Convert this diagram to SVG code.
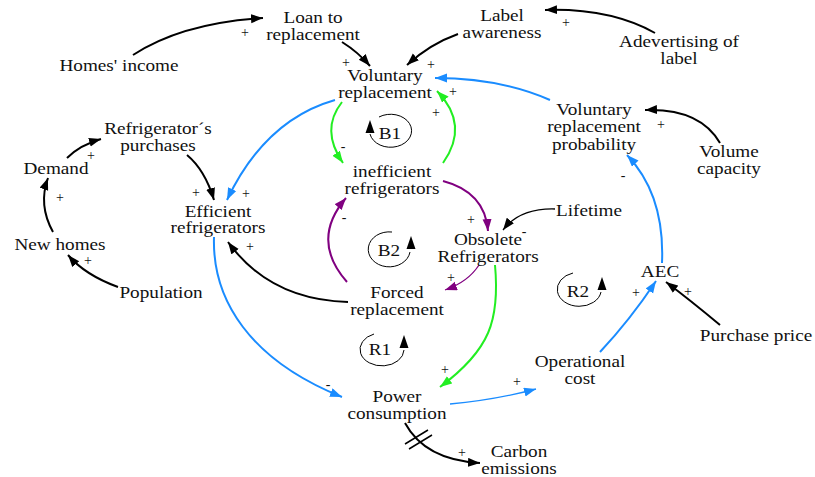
<svg xmlns="http://www.w3.org/2000/svg" width="815" height="477" viewBox="0 0 815 477">
<style>
.t{font-family:"Liberation Serif","Times New Roman",serif;font-size:16px;fill:#111;text-anchor:middle}
.s{font-family:"Liberation Serif","Times New Roman",serif;font-size:14px;fill:#111;text-anchor:middle}
.c{fill:none;stroke-width:2}
.k{stroke:#000}
.b{stroke:#1a8cff}
.g{stroke:#22ee22}
.p{stroke:#800080}
.thin{stroke-width:1.3}
.loop{fill:none;stroke:#000;stroke-width:1}
</style>
<defs>
<marker id="ak" markerUnits="userSpaceOnUse" markerWidth="13" markerHeight="10" refX="12" refY="4.5" orient="auto"><path d="M0,0 L12,4.5 L0,9 z" fill="#000"/></marker>
<marker id="ab" markerUnits="userSpaceOnUse" markerWidth="13" markerHeight="10" refX="12" refY="4.5" orient="auto"><path d="M0,0 L12,4.5 L0,9 z" fill="#1a8cff"/></marker>
<marker id="ag" markerUnits="userSpaceOnUse" markerWidth="13" markerHeight="10" refX="12" refY="4.5" orient="auto"><path d="M0,0 L12,4.5 L0,9 z" fill="#22ee22"/></marker>
<marker id="ap" markerUnits="userSpaceOnUse" markerWidth="13" markerHeight="10" refX="12" refY="4.5" orient="auto"><path d="M0,0 L12,4.5 L0,9 z" fill="#800080"/></marker>
</defs>
<rect width="815" height="477" fill="#fff"/>

<g id="connectors">
<path class="c k" d="M133,55 Q182,23 263,18" marker-end="url(#ak)"/>
<path class="c k" d="M342,42 Q358,52 370,66" marker-end="url(#ak)"/>
<path class="c k" d="M458,34 Q430,44 407,65" marker-end="url(#ak)"/>
<path class="c k" d="M655,33 Q610,8 545,10" marker-end="url(#ak)"/>
<path class="c b" d="M550,100 Q500,78 435,78" marker-end="url(#ab)"/>
<path class="c k" d="M720,143 Q700,108 645,110" marker-end="url(#ak)"/>
<path class="c b" d="M662,263 Q665,195 627,155" marker-end="url(#ab)"/>
<path class="c b" d="M600,352 Q630,320 656,281" marker-end="url(#ab)"/>
<path class="c k" d="M720,325 Q690,300 666,282" marker-end="url(#ak)"/>
<path class="c b thin" d="M450,404 Q495,400 536,389" marker-end="url(#ab)"/>
<path class="c k" d="M405,423 Q425,460 480,463" marker-end="url(#ak)"/>
<path class="k" stroke-width="1.5" d="M405,444 L428,430 M409,449 L432,435"/>
<path class="c b" d="M214,237 C212,300 250,360 342,397" marker-end="url(#ab)"/>
<path class="c b" d="M335,100 Q265,120 227,200" marker-end="url(#ab)"/>
<path class="c k" d="M187,155 Q205,170 214,200" marker-end="url(#ak)"/>
<path class="c k" d="M348,302 Q270,300 228,242" marker-end="url(#ak)"/>
<path class="c k" d="M67,158 Q80,145 101,139" marker-end="url(#ak)"/>
<path class="c k" d="M53,232 Q38,205 48,178" marker-end="url(#ak)"/>
<path class="c k" d="M118,287 Q85,275 68,255" marker-end="url(#ak)"/>
<path class="c g" d="M342,102 Q320,130 343,163" marker-end="url(#ag)"/>
<path class="c g" d="M443,163 Q470,125 437,91" marker-end="url(#ag)"/>
<path class="c p" d="M443,181 Q485,192 488,231" marker-end="url(#ap)"/>
<path class="c k thin" d="M555,209 Q520,208 503,230" marker-end="url(#ak)"/>
<path class="c p thin" d="M479,265 Q468,282 445,290" marker-end="url(#ap)"/>
<path class="c p" d="M347,282 Q310,240 346,198" marker-end="url(#ap)"/>
<path class="c g" d="M495,265 C500,320 490,350 440,387" marker-end="url(#ag)"/>
</g>

<g id="signs">
<text class="s" x="245" y="37">+</text>
<text class="s" x="346" y="67">+</text>
<text class="s" x="431" y="69">+</text>
<text class="s" x="566" y="27">+</text>
<text class="s" x="453" y="96">+</text>
<text class="s" x="436" y="117">+</text>
<text class="s" x="661" y="129">+</text>
<text class="s" x="623" y="180">-</text>
<text class="s" x="636" y="297">+</text>
<text class="s" x="688" y="296">+</text>
<text class="s" x="517" y="386">+</text>
<text class="s" x="462" y="457">+</text>
<text class="s" x="328" y="389">-</text>
<text class="s" x="246" y="198">+</text>
<text class="s" x="196" y="197">+</text>
<text class="s" x="250" y="251">+</text>
<text class="s" x="91" y="160">+</text>
<text class="s" x="60" y="202">+</text>
<text class="s" x="88" y="265">+</text>
<text class="s" x="343" y="151">-</text>
<text class="s" x="471" y="224">+</text>
<text class="s" x="524" y="236">-</text>
<text class="s" x="451" y="282">+</text>
<text class="s" x="344" y="222">-</text>
<text class="s" x="445" y="374">+</text>
</g>

<g id="loop-B1">
<path class="loop" d="M379,117 A21,16.5 0 1,1 370,134"/>
<path d="M370,120 L365.5,133 L374.5,133 z" fill="#000"/>
<text class="t" transform="translate(390,0) scale(1.2,1)" y="139">B1</text>
</g>
<g id="loop-B2">
<path class="loop" d="M392,232 A21,17.5 0 1,0 410,252"/>
<path d="M411,236 L406.5,249 L415.5,249 z" fill="#000"/>
<text class="t" transform="translate(389,0) scale(1.2,1)" y="256">B2</text>
</g>
<g id="loop-R1">
<path class="loop" d="M374,334 A22,16.5 0 1,0 404,350"/>
<path d="M404,335 L399.5,348 L408.5,348 z" fill="#000"/>
<text class="t" transform="translate(380,0) scale(1.2,1)" y="355">R1</text>
</g>
<g id="loop-R2">
<path class="loop" d="M573,273 A22,17 0 1,0 601,292"/>
<path d="M602,277 L597.5,290 L606.5,290 z" fill="#000"/>
<text class="t" transform="translate(578,0) scale(1.2,1)" y="297">R2</text>
</g>

<g id="n-loan"><text class="t" transform="translate(313,0) scale(1.2,1)"><tspan x="0" y="23">Loan to</tspan><tspan x="0" y="40">replacement</tspan></text></g>
<g id="n-homes-income"><text class="t" transform="translate(119,0) scale(1.2,1)" y="71">Homes' income</text></g>
<g id="n-voluntary"><text class="t" transform="translate(385,0) scale(1.2,1)"><tspan x="0" y="81">Voluntary</tspan><tspan x="0" y="98">replacement</tspan></text></g>
<g id="n-purchases"><text class="t" transform="translate(158,0) scale(1.2,1)"><tspan x="0" y="134">Refrigerator´s</tspan><tspan x="0" y="151">purchases</tspan></text></g>
<g id="n-label-awareness"><text class="t" transform="translate(502,0) scale(1.2,1)"><tspan x="0" y="21">Label</tspan><tspan x="0" y="38">awareness</tspan></text></g>
<g id="n-advertising"><text class="t" transform="translate(679,0) scale(1.2,1)"><tspan x="0" y="47">Adevertising of</tspan><tspan x="0" y="64">label</tspan></text></g>
<g id="n-vrp"><text class="t" transform="translate(594,0) scale(1.2,1)"><tspan x="0" y="115">Voluntary</tspan><tspan x="0" y="132.5">replacement</tspan><tspan x="0" y="150">probability</tspan></text></g>
<g id="n-volume"><text class="t" transform="translate(729,0) scale(1.2,1)"><tspan x="0" y="157">Volume</tspan><tspan x="0" y="174">capacity</tspan></text></g>
<g id="n-demand"><text class="t" transform="translate(56,0) scale(1.2,1)" y="174">Demand</text></g>
<g id="n-new-homes"><text class="t" transform="translate(60,0) scale(1.2,1)" y="250">New homes</text></g>
<g id="n-population"><text class="t" transform="translate(161,0) scale(1.2,1)" y="298">Population</text></g>
<g id="n-efficient"><text class="t" transform="translate(218,0) scale(1.2,1)"><tspan x="0" y="217">Efficient</tspan><tspan x="0" y="233.5">refrigerators</tspan></text></g>
<g id="n-inefficient"><text class="t" transform="translate(392,0) scale(1.2,1)"><tspan x="0" y="177">inefficient</tspan><tspan x="0" y="194">refrigerators</tspan></text></g>
<g id="n-obsolete"><text class="t" transform="translate(488,0) scale(1.2,1)"><tspan x="0" y="245">Obsolete</tspan><tspan x="0" y="262">Refrigerators</tspan></text></g>
<g id="n-forced"><text class="t" transform="translate(397,0) scale(1.2,1)"><tspan x="0" y="298">Forced</tspan><tspan x="0" y="315">replacement</tspan></text></g>
<g id="n-lifetime"><text class="t" transform="translate(589,0) scale(1.2,1)" y="216">Lifetime</text></g>
<g id="n-aec"><text class="t" transform="translate(660,0) scale(1.2,1)" y="277">AEC</text></g>
<g id="n-purchase-price"><text class="t" transform="translate(756,0) scale(1.2,1)" y="341">Purchase price</text></g>
<g id="n-operational"><text class="t" transform="translate(580,0) scale(1.2,1)"><tspan x="0" y="367">Operational</tspan><tspan x="0" y="384">cost</tspan></text></g>
<g id="n-power"><text class="t" transform="translate(397,0) scale(1.2,1)"><tspan x="0" y="402">Power</tspan><tspan x="0" y="419">consumption</tspan></text></g>
<g id="n-carbon"><text class="t" transform="translate(519,0) scale(1.2,1)"><tspan x="0" y="457">Carbon</tspan><tspan x="0" y="474">emissions</tspan></text></g>
</svg>
